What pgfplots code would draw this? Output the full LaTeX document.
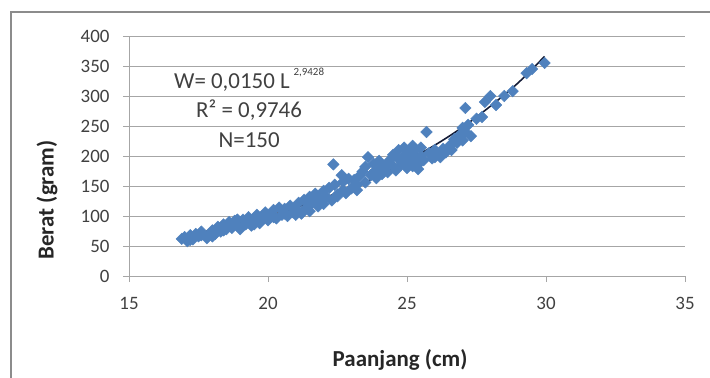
\documentclass[border=0pt]{standalone}
\usepackage{fontspec}
\setmainfont{Carlito}
\usepackage{pgfplots}
\pgfplotsset{compat=1.18}
\usetikzlibrary{calc}
\definecolor{mblue}{HTML}{4F81BD}
\definecolor{gridc}{HTML}{A6A6A6}
\definecolor{bordc}{HTML}{8C8C8C}
\definecolor{fitc}{RGB}{20,28,55}
\definecolor{txtc}{HTML}{404040}
\begin{document}
\begin{tikzpicture}
\begin{axis}[
  scale only axis, width=556bp, height=240bp,
  xmin=15, xmax=35, ymin=0, ymax=400,
  xtick={15,20,25,30,35}, ytick={0,50,...,400},
  axis x line=bottom, axis y line=left,
  axis line style={-, draw=gridc, line width=1pt},
  ymajorgrids, grid style={gridc, line width=1pt},
  tick style={gridc, line width=1pt}, tick align=outside, major tick length=6bp,
  /pgf/number format/assume math mode=true,
  ticklabel style={font=\fontsize{19}{19}\selectfont, text=txtc},
  yticklabel style={xshift=-10bp},
  xticklabel style={yshift=-12bp},
  xlabel={Paanjang (cm)}, ylabel={Berat (gram)},
  label style={font=\fontsize{23}{23}\selectfont\bfseries, text=black!85},
  xlabel style={at={(axis description cs:0.4875,0)}, anchor=center, yshift=-84bp},
  ylabel style={at={(axis description cs:0,0.317)}, anchor=center, rotate=0, yshift=82bp},
  clip=false,
]
\addplot[only marks, mark=square*, mark size=4.1bp, mark options={rotate=45, fill=mblue, draw=mblue}] coordinates {
(16.9,62)(17.0,65)(17.1,58)(17.2,68)(17.3,61)(17.4,70)(17.5,66)(17.6,74)(17.8,63)(17.9,70)(18.0,66)(18.0,76)
(18.1,70)(18.2,82)(18.3,74)(18.4,86)(18.5,78)(18.6,90)(18.7,80)(18.8,92)(18.9,84)(19.0,78)(19.1,94)(19.2,86)(19.3,98)(19.4,84)(19.5,96)(19.6,102)(19.7,88)(19.8,100)(19.9,106)(20.0,93)
(20.1,100)(20.2,110)(20.3,96)(20.4,114)(20.5,102)(20.6,112)(20.7,100)(20.8,117)(20.9,106)(21.0,112)(21.1,122)(21.2,104)(21.3,127)(21.4,114)(21.5,132)(21.5,108)(21.6,122)(21.7,137)(21.8,116)(21.9,128)(22.0,142)(22.0,120)(22.1,132)(22.2,147)(22.3,126)
(22.35,186)(22.4,152)(22.5,136)(22.65,168)(22.7,143)(22.7,157)(22.8,138)(22.9,162)(23.0,146)(23.1,160)(23.2,143)(23.3,167)(23.4,174)(23.5,156)(23.5,182)(23.6,198)(23.7,168)(23.8,187)(23.9,163)(24.0,178)(24.0,192)(24.1,170)(24.2,184)(24.3,173)(24.4,194)
(24.5,183)(24.5,202)(24.6,176)(24.7,195)(24.7,210)(24.8,186)(24.9,200)(24.9,214)(25.0,180)(25.0,195)(25.1,207)(25.1,188)(25.2,217)(25.2,183)(25.3,198)(25.3,210)(25.4,186)(25.4,178)(25.5,200)(25.5,214)(25.6,193)(25.7,240)(25.8,205)(25.9,196)(26.0,210)
(26.1,203)(26.2,198)(26.3,212)(26.4,206)(26.5,215)(26.6,220)(26.7,228)(26.8,222)(26.9,235)(27.0,247)(27.0,226)(27.1,280)(27.1,240)(27.2,252)(27.3,233)(27.5,262)(27.7,265)(27.8,290)(28.0,300)(28.2,285)
(28.5,300)(28.8,308)(29.3,338)(29.5,345)(29.95,355)
(17.2,60)(17.6,68)(18.4,76)(18.9,94)(19.5,86)(20.2,98)(20.6,104)(21.0,102)(21.3,110)(21.8,130)(22.5,133)(23.2,152)(23.8,173)(24.3,186)(24.8,190)(25.3,191)(26.0,198)(26.6,210)
};
\addplot[fitc, line width=1.6pt, smooth, no marks] coordinates {
(16.9,65)(17,66)(18,77)(19,88)(20,100)(21,114)(22,130)(23,147)(24,167)(25,192)(26,218)(27,248)(28,283)(29,322)(29.95,366)
};
\node[font=\fontsize{23}{23}\selectfont, text=txtc, anchor=center] at (axis cs:19.32,327) {W= 0,0150 L\,\raisebox{0.6em}{\fontsize{11}{11}\selectfont 2,9428}};
\node[font=\fontsize{23}{23}\selectfont, text=txtc, anchor=center] at (axis cs:19.32,277) {R² = 0,9746};
\node[font=\fontsize{23}{23}\selectfont, text=txtc, anchor=center] at (axis cs:19.32,227) {N=150};
\coordinate (ll) at (rel axis cs:0,0);
\coordinate (ur) at (rel axis cs:1,1);
\end{axis}
\draw[bordc, line width=1.2pt] ($(ll)+(-118bp,-110bp)$) -- ($(ll|-ur)+(-118bp,24bp)$) -- ($(ur)+(30bp,24bp)$);
\pgfresetboundingbox
\path ($(ll)+(-129bp,-102bp)$) rectangle ($(ur)+(25bp,36bp)$);
\end{tikzpicture}
\end{document}
